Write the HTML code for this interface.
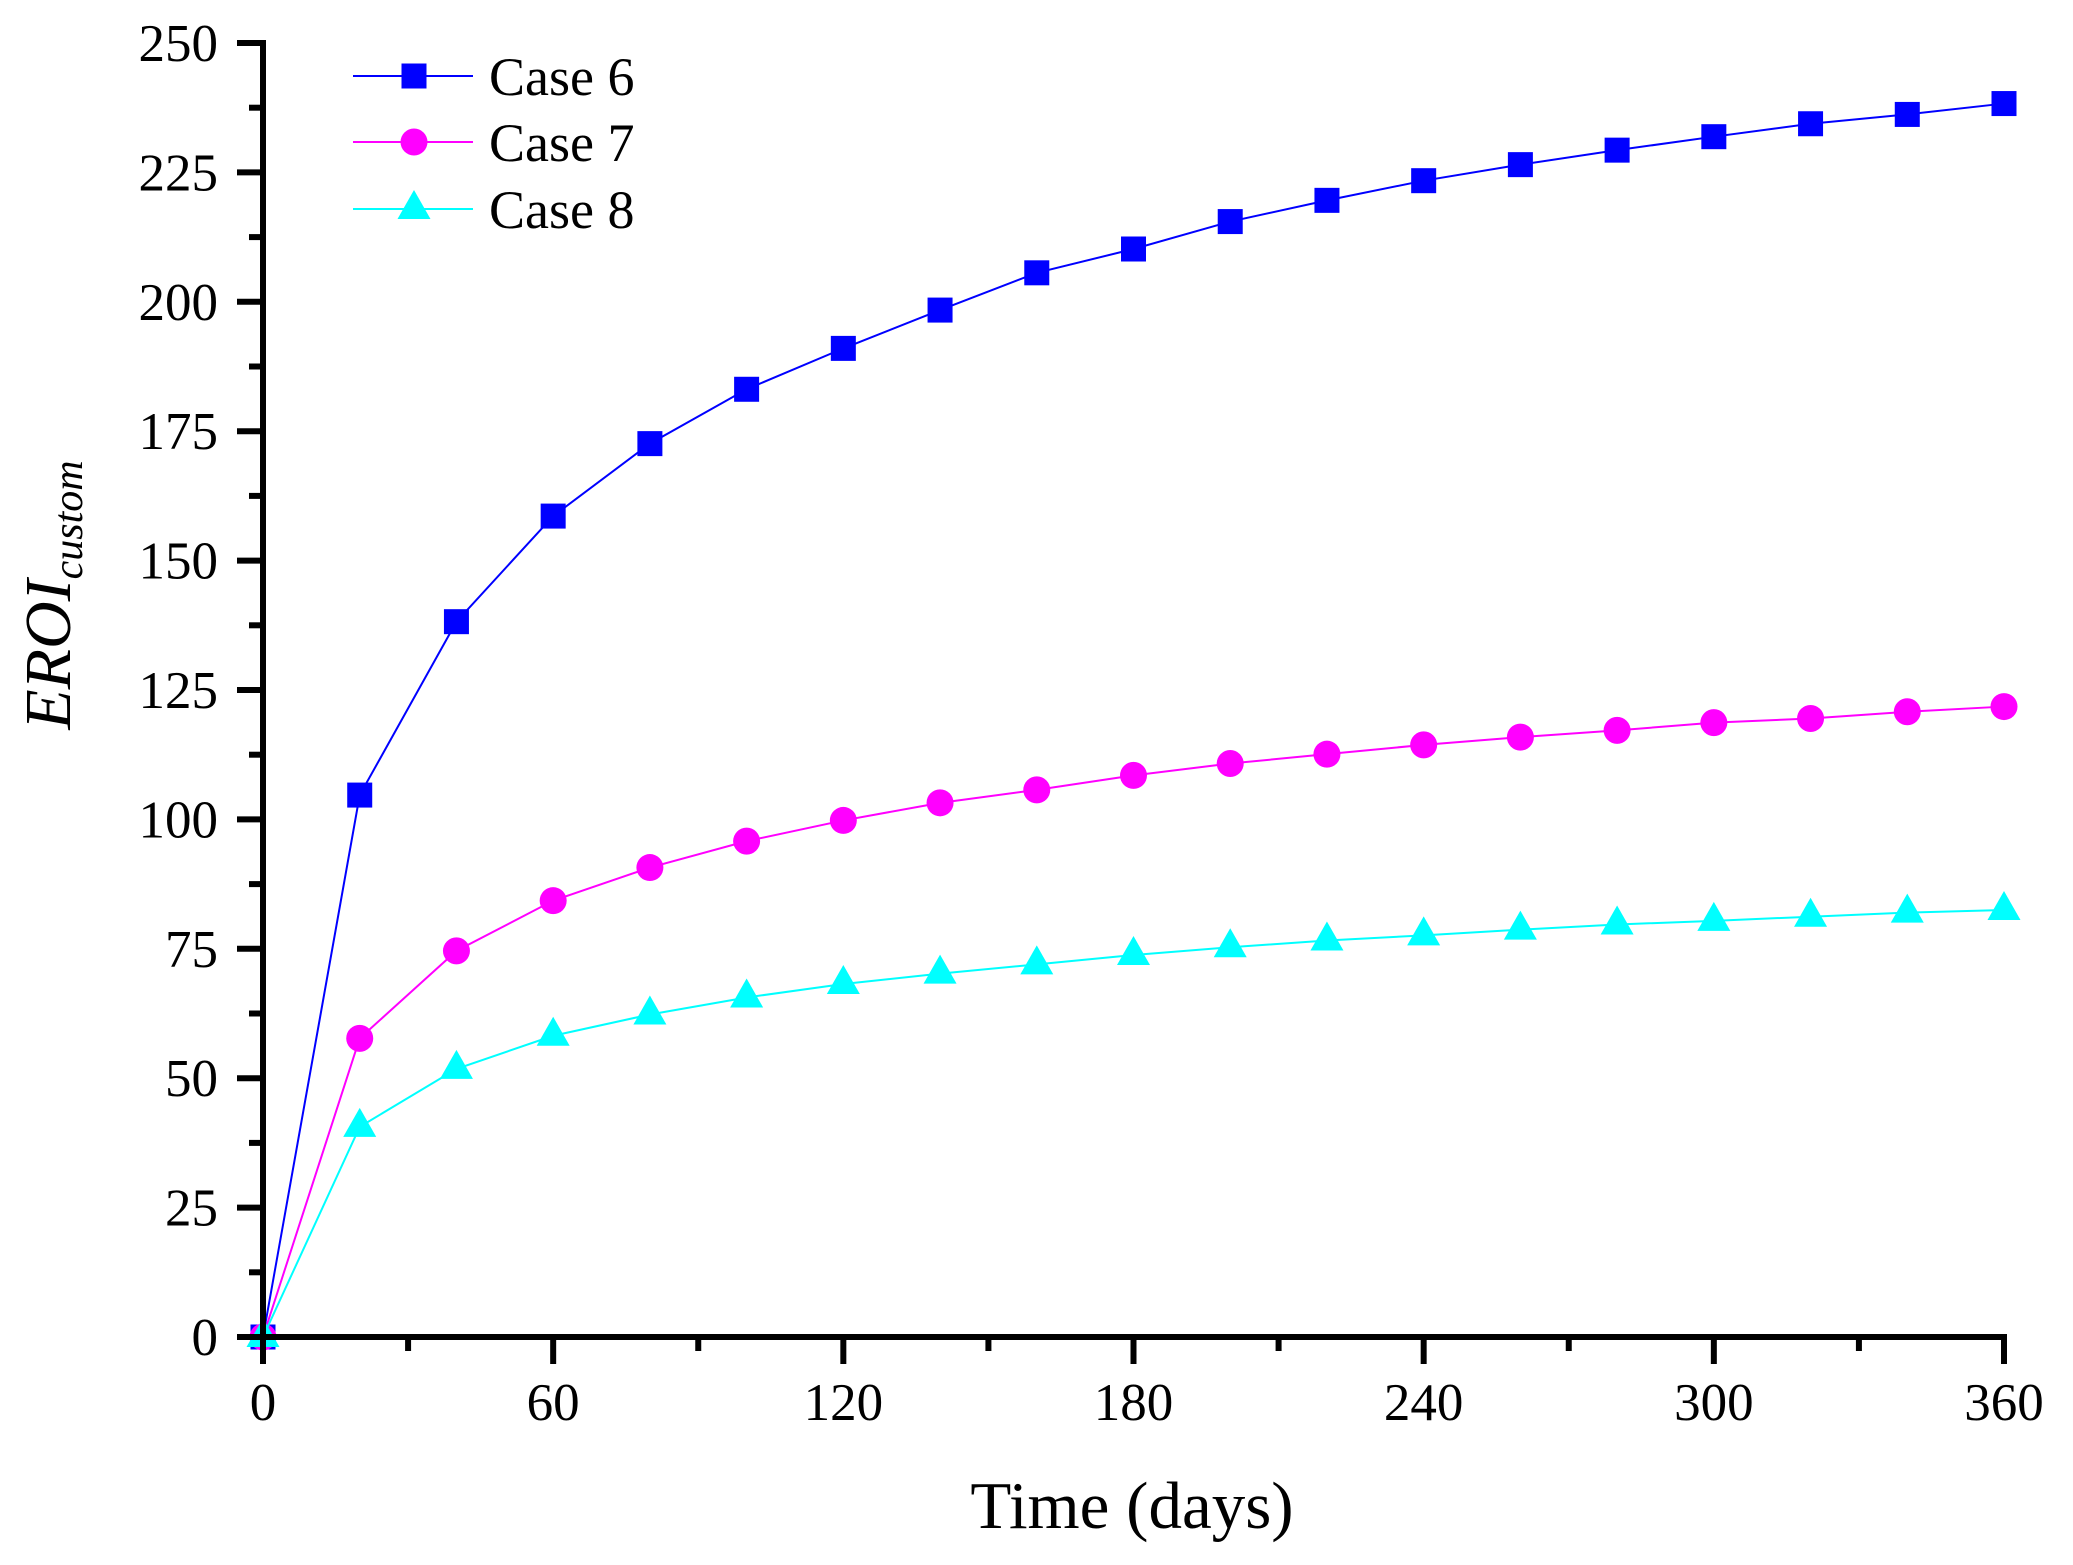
<!DOCTYPE html>
<html><head><meta charset="utf-8"><style>
html,body{margin:0;padding:0;background:#fff;}
svg{display:block;font-family:"Liberation Serif",serif;}
</style></head><body>
<svg id="chart" width="2073" height="1565" viewBox="0 0 2073 1565" xmlns="http://www.w3.org/2000/svg">
<g id="plot"></g>
<g id="axes"></g>
<g id="legend"></g>
<text x="1132" y="1528" font-size="67" text-anchor="middle">Time (days)</text>
<text transform="translate(70,595) rotate(-90)" font-size="66" font-style="italic" text-anchor="middle">EROI<tspan font-size="42" dy="12">custom</tspan></text>
</svg>
<script>
const days = [0,20,40,60,80,100,120,140,160,180,200,220,240,260,280,300,320,340,360];
const case6 = [0,104.7,138.2,158.6,172.6,183.1,191,198.4,205.6,210.2,215.5,219.6,223.4,226.5,229.3,231.9,234.4,236.2,238.3];
const case7 = [0,57.7,74.6,84.3,90.7,95.8,99.8,103.2,105.7,108.5,110.8,112.6,114.4,115.9,117.2,118.7,119.5,120.8,121.8];
const case8 = [0,40.6,51.8,58.2,62.3,65.6,68.2,70.2,72,73.8,75.3,76.6,77.6,78.7,79.7,80.4,81.2,82,82.5];
const xTicks = [0,60,120,180,240,300,360];
const yTicks = [0,25,50,75,100,125,150,175,200,225,250];
const seriesNames = ["Case 6","Case 7","Case 8"];

const NS="http://www.w3.org/2000/svg";
const X0=263,X1=2004,Y0=1337,Y1=43;
function sx(v){return X0+(v-0)/(360-0)*(X1-X0);}
function sy(v){return Y0-(v-0)/(250-0)*(Y0-Y1);}
function mk(tag,attrs,parent){const e=document.createElementNS(NS,tag);for(const k in attrs)e.setAttribute(k,attrs[k]);parent.appendChild(e);return e;}
const plot=document.getElementById('plot'),axes=document.getElementById('axes'),legend=document.getElementById('legend');

function marker(type,x,y,color,parent){
  let e;
  if(type==='square'){e=mk('rect',{x:x-12.5,y:y-12.5,width:25,height:25,fill:color},parent);}
  else if(type==='circle'){e=mk('circle',{cx:x,cy:y,r:13.5,fill:color},parent);}
  else {e=mk('polygon',{points:`${x},${y-19} ${x-16.5},${y+10} ${x+16.5},${y+10}`,fill:color},parent);}
  return e;
}
const series=[{d:case6,c:'#0000ff',m:'square',w:2},{d:case7,c:'#ff00ff',m:'circle',w:2},{d:case8,c:'#00ffff',m:'triangle',w:2}];
series.forEach((s,i)=>{
  const pts=days.map((d,j)=>sx(d)+','+sy(s.d[j])).join(' ');
  const pl=mk('polyline',{points:pts,fill:'none',stroke:s.c,'stroke-width':s.w},plot);
  
  
  days.forEach((d,j)=>{
    const m=marker(s.m,sx(d),sy(s.d[j]),s.c,plot);
    
    
  });
});
let a=mk('line',{x1:X0,y1:Y1-3,x2:X0,y2:Y0+3,stroke:'#000','stroke-width':6},axes);


a=mk('line',{x1:X0-3,y1:Y0,x2:X1+3,y2:Y0,stroke:'#000','stroke-width':6},axes);


yTicks.forEach((v,i)=>{
  const y=sy(v);
  const t=mk('line',{x1:X0-26,y1:y,x2:X0,y2:y,stroke:'#000','stroke-width':6},axes);
  
  
  const l=mk('text',{x:218,y:y+18,'font-size':53,'text-anchor':'end'},axes);
  l.textContent=v;
  
  
  if(i<yTicks.length-1){
    const ym=sy(v+12.5);
    const mt=mk('line',{x1:X0-14,y1:ym,x2:X0,y2:ym,stroke:'#000','stroke-width':6},axes);
    
    
  }
});
xTicks.forEach((v,i)=>{
  const x=sx(v);
  const t=mk('line',{x1:x,y1:Y0,x2:x,y2:Y0+27,stroke:'#000','stroke-width':6},axes);
  
  
  const l=mk('text',{x:x,y:1420,'font-size':53,'text-anchor':'middle'},axes);
  l.textContent=v;
  
  
  if(i<xTicks.length-1){
    const xm=sx(v+30);
    const mt=mk('line',{x1:xm,y1:Y0,x2:xm,y2:Y0+14,stroke:'#000','stroke-width':6},axes);
    
    
  }
});
const ly=[76,142,209];
series.forEach((s,i)=>{
  const g=mk('g',{},legend);
  
  
  mk('line',{x1:353,y1:ly[i],x2:473,y2:ly[i],stroke:s.c,'stroke-width':2},g);
  marker(s.m,414,ly[i],s.c,g);
  const t=mk('text',{x:489,y:ly[i]+19,'font-size':54},g);
  t.textContent=seriesNames[i];
});
</script>
</body></html>
